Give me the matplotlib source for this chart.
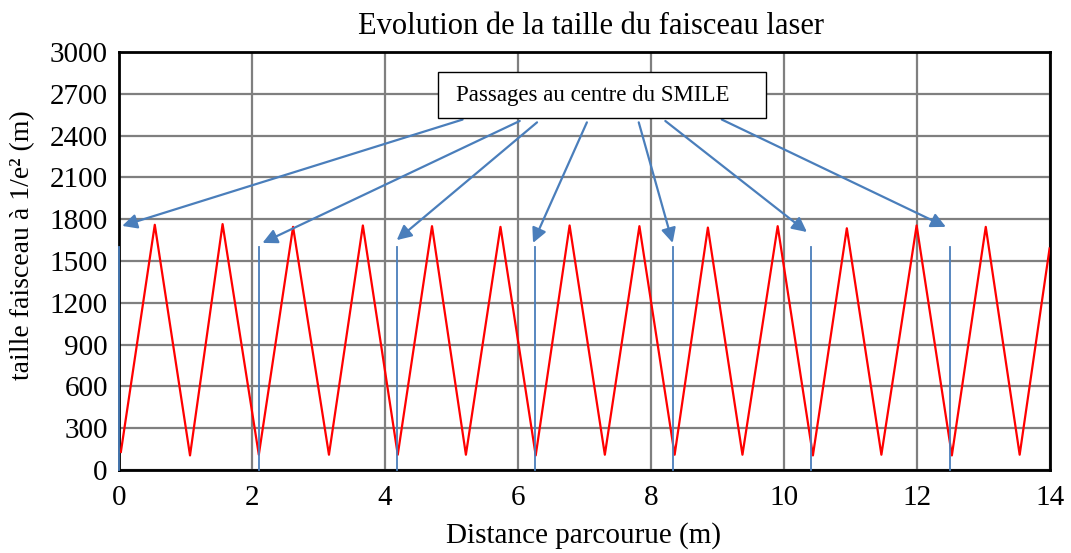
import matplotlib
matplotlib.use("Agg")
import matplotlib.pyplot as plt
from matplotlib.patches import Rectangle

plt.rcParams["font.family"] = ["Liberation Serif", "DejaVu Serif"]

# Red beam-size curve: alternating troughs / peaks
trough_x = [0.03, 1.07, 2.105, 3.16, 4.195, 5.22, 6.27, 7.31, 8.36, 9.38, 10.44, 11.47, 12.53, 13.55]
trough_y = [130, 105, 110, 110, 110, 110, 105, 110, 110, 110, 105, 110, 105, 110]
peak_x = [0.54, 1.56, 2.62, 3.67, 4.71, 5.74, 6.78, 7.83, 8.86, 9.91, 10.95, 12.0, 13.04]
peak_y = [1760, 1765, 1745, 1755, 1750, 1745, 1755, 1750, 1740, 1750, 1735, 1755, 1745]
end_x, end_y = 14.0, 1590

# Blue vertical markers (passages at SMILE centre)
pass_x = [0.0, 2.105, 4.18, 6.26, 8.33, 10.41, 12.5]
pass_top = 1600

# Annotation box and arrows
box_text = "Passages au centre du SMILE"
box_x0, box_x1 = 4.80, 9.73
box_y0, box_y1 = 2527, 2857
arrow_start_x = [5.17, 6.03, 6.29, 7.04, 7.82, 8.22, 9.07]
arrow_start_y = [2515, 2505, 2495, 2495, 2495, 2505, 2515]
arrow_end_x = [0.05, 2.16, 4.18, 6.23, 8.33, 10.35, 12.44]
arrow_end_y = [1752, 1630, 1650, 1630, 1630, 1708, 1745]

x_ticks = list(range(0, 15, 2))
y_ticks = list(range(0, 3001, 300))

curve_x, curve_y = [], []
for i in range(len(trough_x)):
    curve_x.append(trough_x[i])
    curve_y.append(trough_y[i])
    if i < len(peak_x):
        curve_x.append(peak_x[i])
        curve_y.append(peak_y[i])
curve_x.append(end_x)
curve_y.append(end_y)

blue = "#4a7ebb"

fig = plt.figure(figsize=(10.71, 5.53), dpi=100)
ax = fig.add_axes([0.111, 0.150, 0.869, 0.756])

ax.plot(curve_x, curve_y, color="#ff0000", lw=1.6, zorder=3)

for px in pass_x:
    ax.plot([px, px], [0, pass_top], color=blue, lw=1.3, zorder=4, clip_on=False)

for sx, sy, ex, ey in zip(arrow_start_x, arrow_start_y, arrow_end_x, arrow_end_y):
    ax.annotate("", xy=(ex, ey), xytext=(sx, sy),
                arrowprops=dict(arrowstyle="-|>", color=blue, lw=1.6,
                                mutation_scale=22, shrinkA=0, shrinkB=0),
                zorder=5)

ax.add_patch(Rectangle((box_x0, box_y0), box_x1 - box_x0, box_y1 - box_y0,
                       fc="white", ec="black", lw=1.0, zorder=6))
ax.text(7.13, 2690, box_text, ha="center", va="center", fontsize=16.5, zorder=7)

ax.set_xlim(0, 14)
ax.set_ylim(0, 3000)
ax.set_xticks(x_ticks)
ax.set_yticks(y_ticks)
ax.tick_params(axis="y", labelsize=21, length=0, pad=8)
ax.tick_params(axis="x", labelsize=21, length=0, pad=11)
ax.grid(True, color="#7f7f7f", lw=1.6, zorder=0)
ax.set_axisbelow(True)
for sp in ax.spines.values():
    sp.set_color("black")
    sp.set_linewidth(2)

# axis labels placed as figure text to match the reference positions
fig.text(0.545, 0.031, "Distance parcourue (m)", ha="center", va="center", fontsize=21)
fig.text(0.021, 0.557, "taille faisceau à 1/e² (m)", ha="center", va="center",
         rotation=90, fontsize=20)
fig.text(0.552, 0.952, "Evolution de la taille du faisceau laser",
         ha="center", va="center", fontsize=22)

fig.savefig("out.png", dpi=100)
